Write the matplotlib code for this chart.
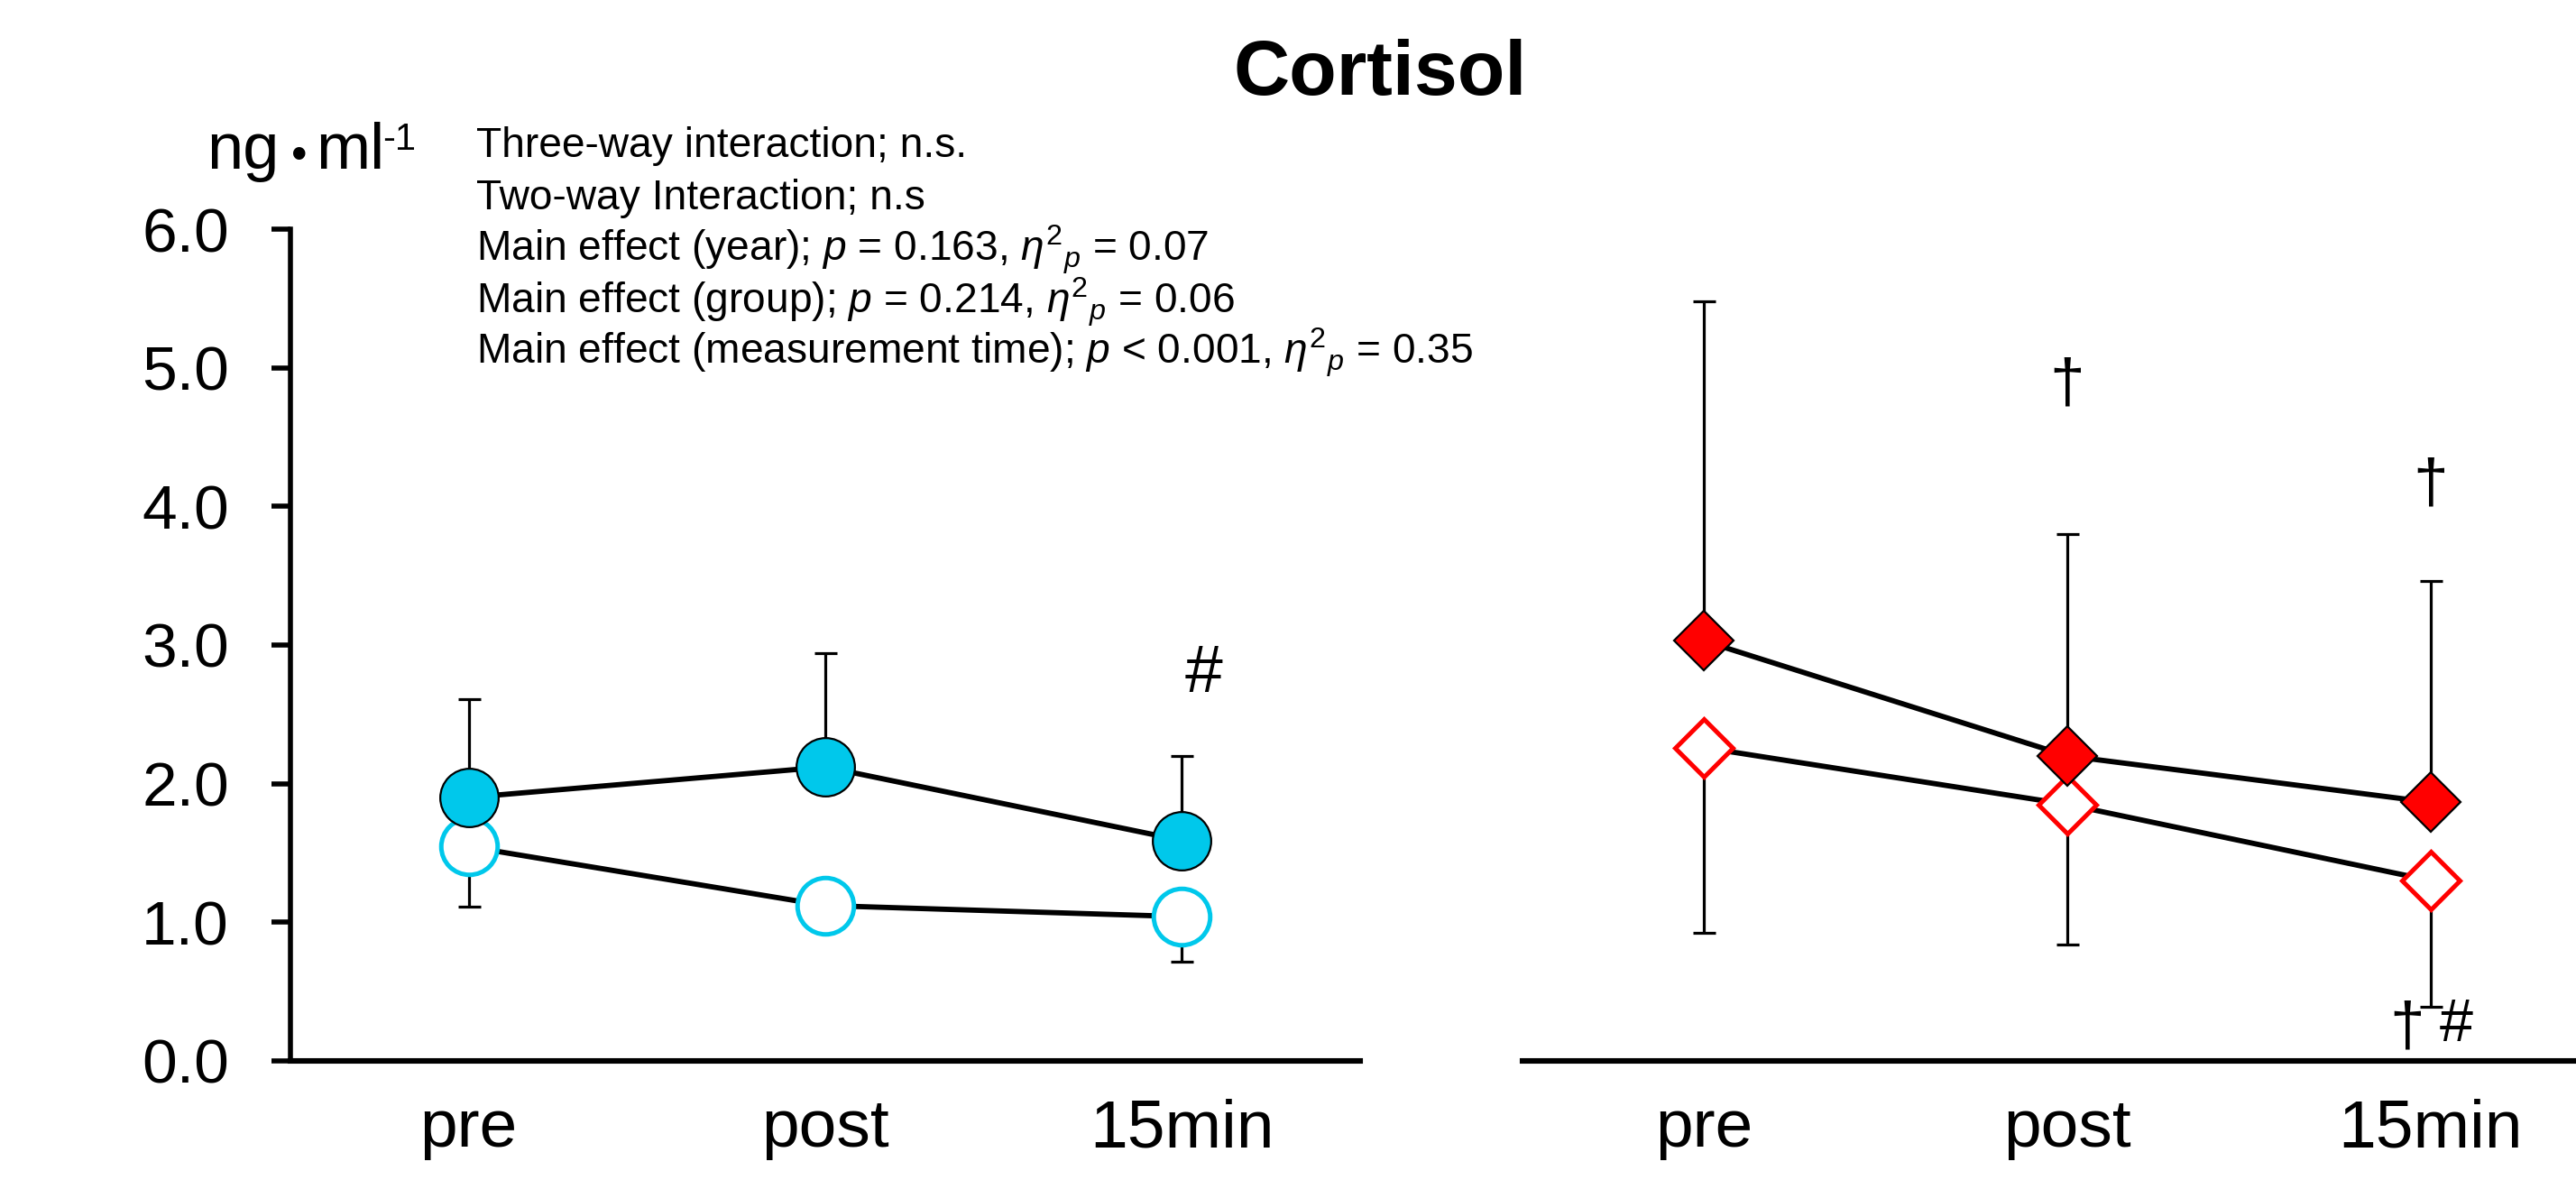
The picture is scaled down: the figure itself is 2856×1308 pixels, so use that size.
import matplotlib
matplotlib.use('Agg')
import matplotlib.pyplot as plt

plt.rcParams['font.family'] = ['Liberation Sans', 'DejaVu Sans']
plt.rcParams['mathtext.fontset'] = 'custom'
plt.rcParams['mathtext.rm'] = 'Liberation Sans'
plt.rcParams['mathtext.it'] = 'Liberation Sans:italic'
plt.rcParams['mathtext.bf'] = 'Liberation Sans:bold'

# ---------------- data ----------------
time_labels = ['pre', 'post', '15min']
y_ticks = [0.0, 1.0, 2.0, 3.0, 4.0, 5.0, 6.0]

# left panel (blue circles)
blue_filled_mean = [1.90, 2.12, 1.59]
blue_filled_sd = [0.71, 0.82, 0.61]
blue_open_mean = [1.545, 1.12, 1.04]
blue_open_sd = [0.435, 0.0, 0.325]

# right panel (red diamonds)
red_filled_mean = [3.03, 2.20, 1.865]
red_filled_sd = [2.45, 1.60, 1.595]
red_open_mean = [2.26, 1.85, 1.30]
red_open_sd = [1.34, 1.01, 0.91]

stats_lines = [
    'Three-way interaction; n.s.',
    'Two-way Interaction; n.s',
    r'Main effect (year); $p$ = 0.163, $\eta^{2}{}_{p}$ = 0.07',
    r'Main effect (group); $p$ = 0.214, $\eta^{2}{}_{p}$ = 0.06',
    r'Main effect (measurement time); $p$ < 0.001, $\eta^{2}{}_{p}$ = 0.35',
]

CYAN = '#00C8EB'
RED = '#FF0000'

W, H, DPI = 2856, 1308, 200
fig = plt.figure(figsize=(W / DPI, H / DPI), dpi=DPI)

y0_px, y6_px = 1175.8, 254.2
bottom = (H - y0_px) / H
height = (y0_px - y6_px) / H
axL = fig.add_axes([322 / W, bottom, (1508 - 322) / W, height])
axR = fig.add_axes([1687.5 / W, bottom, 1209 / W, height])

x = list(range(len(time_labels)))

for ax in (axL, axR):
    ax.set_xlim(-0.5, 2.5)
    ax.set_ylim(0, 6)
    ax.spines['top'].set_visible(False)
    ax.spines['right'].set_visible(False)
    ax.spines['bottom'].set_linewidth(2.2)
    ax.spines['left'].set_linewidth(2.0)
    ax.set_xticks(x)
    ax.set_xticklabels(time_labels, fontsize=27)
    ax.tick_params(axis='x', length=0, pad=15)
    ax.patch.set_visible(False)

axL.set_yticks(y_ticks)
axL.set_yticklabels([f'{v:.1f}' for v in y_ticks], fontsize=25)
axL.tick_params(axis='y', length=7.5, width=2.0, pad=17)
axR.spines['left'].set_visible(False)
axR.set_yticks([])


def draw_series(ax, mean, sd, upper):
    zeros = [0] * len(sd)
    yerr = [zeros, sd] if upper else [sd, zeros]
    ax.errorbar(x, mean, yerr=yerr, fmt='none', ecolor='black', elinewidth=1.15,
                capsize=4.5, capthick=1.15, zorder=2, clip_on=False)
    ax.plot(x, mean, color='black', lw=2.1, zorder=2.5, clip_on=False)


def draw_markers(ax, mean, marker, ms, face, edge, mew, z):
    ax.plot(x, mean, ls='none', marker=marker, ms=ms, mfc=face, mec=edge, mew=mew,
            zorder=z, clip_on=False)


# left panel
draw_series(axL, blue_open_mean, blue_open_sd, False)
draw_series(axL, blue_filled_mean, blue_filled_sd, True)
draw_markers(axL, blue_open_mean, 'o', 22.5, 'white', CYAN, 1.8, 3)
draw_markers(axL, blue_filled_mean, 'o', 23.3, CYAN, 'black', 0.8, 4)

# right panel
draw_series(axR, red_open_mean, red_open_sd, False)
draw_series(axR, red_filled_mean, red_filled_sd, True)
draw_markers(axR, red_open_mean, 'D', 16.3, 'white', RED, 1.8, 3)
draw_markers(axR, red_filled_mean, 'D', 16.6, RED, 'black', 0.8, 4)

# significance marks
axL.text(2.06, 2.79, '#', fontsize=27, ha='center', va='center')
axR.text(1.0, 4.87, '†', fontsize=25, ha='center', va='center')
axR.text(2.0, 4.15, '†', fontsize=25, ha='center', va='center')
axR.text(1.935, 0.23, '†', fontsize=25, ha='center', va='center', clip_on=False)
axR.text(2.07, 0.25, '#', fontsize=24, ha='center', va='center', clip_on=False)

# title
fig.text(1530 / W, 1 - 105 / H, 'Cortisol', fontsize=31, fontweight='bold',
         ha='center', va='baseline')

# unit label
ub = 1 - 187 / H
fig.text(229 / W, ub, 'ng', fontsize=26, ha='left', va='baseline')
fig.text(332 / W, ub, '•', fontsize=18, ha='center', va='baseline')
fig.text(350 / W, ub, 'ml', fontsize=26, ha='left', va='baseline')
fig.text(424 / W, 1 - 166 / H, '-1', fontsize=15, ha='left', va='baseline')

# statistics text
baselines = [174, 232, 290, 347, 404]
for line, b in zip(stats_lines, baselines):
    fig.text(528 / W, 1 - b / H, line, fontsize=16.6, ha='left', va='baseline')

fig.savefig('out.png', dpi=DPI)
